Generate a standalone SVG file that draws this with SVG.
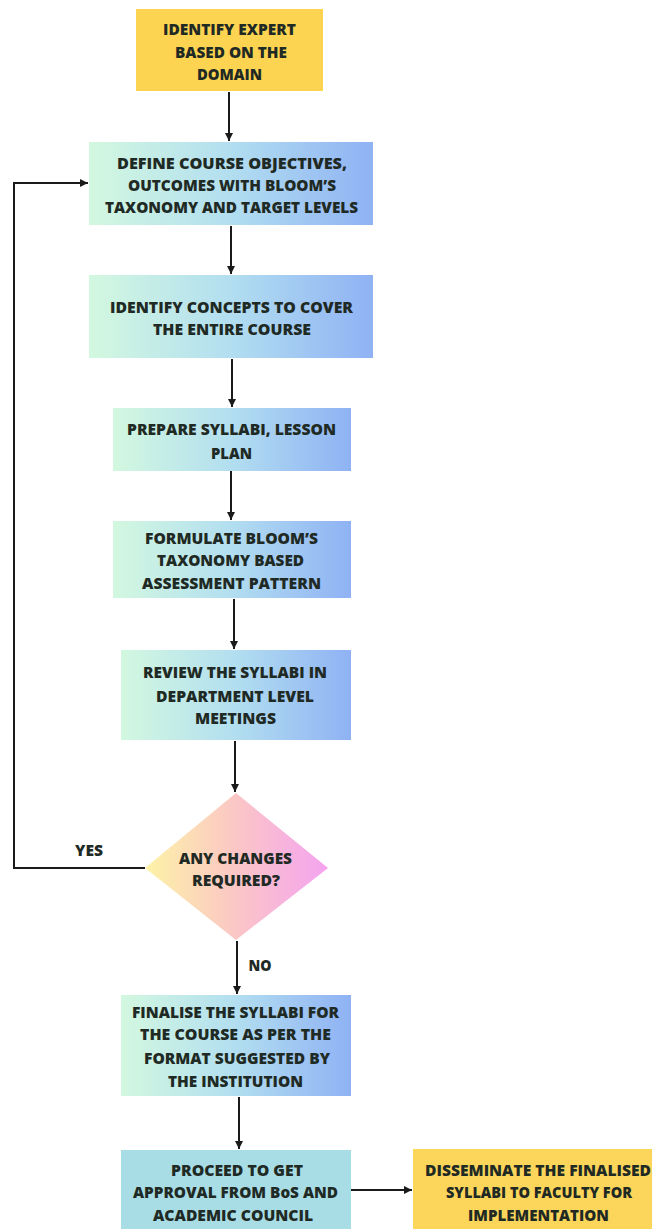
<svg xmlns="http://www.w3.org/2000/svg" width="652" height="1229" viewBox="0 0 652 1229">
<style>
.t{font-family:"Open Sans","Liberation Sans",sans-serif;font-weight:800;font-size:15.5px;fill:#1f2a24;text-anchor:middle}
.c{fill:none;stroke:#1a1a1a;stroke-width:2}
</style>
<defs>
<linearGradient id="g" x1="0" y1="0" x2="1" y2="0">
<stop offset="0" stop-color="#d3f8e0"/>
<stop offset="0.5" stop-color="#b2def0"/>
<stop offset="1" stop-color="#8fb2f4"/>
</linearGradient>
<linearGradient id="dg" x1="0" y1="0" x2="1" y2="0">
<stop offset="0" stop-color="#fdf3a6"/>
<stop offset="0.5" stop-color="#fbc6c6"/>
<stop offset="1" stop-color="#f4a3f0"/>
</linearGradient>
<marker id="a" markerUnits="userSpaceOnUse" markerWidth="10" markerHeight="10" refX="8" refY="4" orient="auto">
<path d="M0,0 L8,4 L0,8 Z" fill="#1a1a1a"/>
</marker>
</defs>
<rect width="652" height="1229" fill="#ffffff"/>

<g id="connectors">
<path class="c" d="M229,92 V141" marker-end="url(#a)"/>
<path class="c" d="M231,226 V274" marker-end="url(#a)"/>
<path class="c" d="M232,359 V407" marker-end="url(#a)"/>
<path class="c" d="M231,471 V520" marker-end="url(#a)"/>
<path class="c" d="M234,599 V649" marker-end="url(#a)"/>
<path class="c" d="M235,741 V792" marker-end="url(#a)"/>
<path class="c" d="M145,868 H14 V183 H88" marker-end="url(#a)"/>
<path class="c" d="M237,941 V994" marker-end="url(#a)"/>
<path class="c" d="M239,1097 V1149" marker-end="url(#a)"/>
<path class="c" d="M351,1190 H412" marker-end="url(#a)"/>
<text class="t" x="89" y="856" textLength="28" lengthAdjust="spacingAndGlyphs">YES</text>
<text class="t" x="260" y="971" textLength="23" lengthAdjust="spacingAndGlyphs">NO</text>
</g>

<g id="n1">
<rect x="136" y="9" width="187" height="82" fill="#fdd451"/>
<text class="t" x="229.5" y="35" textLength="133" lengthAdjust="spacingAndGlyphs">IDENTIFY EXPERT</text>
<text class="t" x="231" y="58" textLength="112" lengthAdjust="spacingAndGlyphs">BASED ON THE</text>
<text class="t" x="229.5" y="80" textLength="65" lengthAdjust="spacingAndGlyphs">DOMAIN</text>
</g>

<g id="n2">
<rect x="89" y="142" width="284" height="83" fill="url(#g)"/>
<text class="t" x="232" y="169" textLength="230" lengthAdjust="spacingAndGlyphs">DEFINE COURSE OBJECTIVES,</text>
<text class="t" x="232" y="191" textLength="208" lengthAdjust="spacingAndGlyphs">OUTCOMES WITH BLOOM’S</text>
<text class="t" x="231.5" y="213" textLength="253" lengthAdjust="spacingAndGlyphs">TAXONOMY AND TARGET LEVELS</text>
</g>

<g id="n3">
<rect x="89" y="275" width="284" height="83" fill="url(#g)"/>
<text class="t" x="231.5" y="313" textLength="243" lengthAdjust="spacingAndGlyphs">IDENTIFY CONCEPTS TO COVER</text>
<text class="t" x="232" y="335" textLength="158" lengthAdjust="spacingAndGlyphs">THE ENTIRE COURSE</text>
</g>

<g id="n4">
<rect x="113" y="408" width="238" height="63" fill="url(#g)"/>
<text class="t" x="231.5" y="435" textLength="209" lengthAdjust="spacingAndGlyphs">PREPARE SYLLABI, LESSON</text>
<text class="t" x="231.5" y="459" textLength="41" lengthAdjust="spacingAndGlyphs">PLAN</text>
</g>

<g id="n5">
<rect x="113" y="521" width="238" height="77" fill="url(#g)"/>
<text class="t" x="231.5" y="544" textLength="173" lengthAdjust="spacingAndGlyphs">FORMULATE BLOOM’S</text>
<text class="t" x="230.5" y="566" textLength="147" lengthAdjust="spacingAndGlyphs">TAXONOMY BASED</text>
<text class="t" x="231.5" y="589" textLength="179" lengthAdjust="spacingAndGlyphs">ASSESSMENT PATTERN</text>
</g>

<g id="n6">
<rect x="121" y="650" width="230" height="90" fill="url(#g)"/>
<text class="t" x="235" y="678" textLength="184" lengthAdjust="spacingAndGlyphs">REVIEW THE SYLLABI IN</text>
<text class="t" x="235" y="702" textLength="158" lengthAdjust="spacingAndGlyphs">DEPARTMENT LEVEL</text>
<text class="t" x="235.5" y="724" textLength="81" lengthAdjust="spacingAndGlyphs">MEETINGS</text>
</g>

<g id="n7">
<path d="M236,793 L328,868 L236,940 L145,868 Z" fill="url(#dg)"/>
<text class="t" x="235.5" y="864" textLength="113" lengthAdjust="spacingAndGlyphs">ANY CHANGES</text>
<text class="t" x="236" y="886" textLength="88" lengthAdjust="spacingAndGlyphs">REQUIRED?</text>
</g>

<g id="n8">
<rect x="121" y="995" width="230" height="101" fill="url(#g)"/>
<text class="t" x="235.5" y="1018" textLength="207" lengthAdjust="spacingAndGlyphs">FINALISE THE SYLLABI FOR</text>
<text class="t" x="235.5" y="1040" textLength="191" lengthAdjust="spacingAndGlyphs">THE COURSE AS PER THE</text>
<text class="t" x="237" y="1064" textLength="186" lengthAdjust="spacingAndGlyphs">FORMAT SUGGESTED BY</text>
<text class="t" x="235.5" y="1087" textLength="135" lengthAdjust="spacingAndGlyphs">THE INSTITUTION</text>
</g>

<g id="n9">
<rect x="121" y="1150" width="230" height="79" fill="#a9dde6"/>
<text class="t" x="237" y="1176" textLength="132" lengthAdjust="spacingAndGlyphs">PROCEED TO GET</text>
<text class="t" x="235.5" y="1198" textLength="205" lengthAdjust="spacingAndGlyphs">APPROVAL FROM BoS AND</text>
<text class="t" x="233" y="1221" textLength="160" lengthAdjust="spacingAndGlyphs">ACADEMIC COUNCIL</text>
</g>

<g id="n10">
<rect x="413" y="1149" width="239" height="80" fill="#fcd65a"/>
<text class="t" x="538" y="1176" textLength="226" lengthAdjust="spacingAndGlyphs">DISSEMINATE THE FINALISED</text>
<text class="t" x="539" y="1198" textLength="186" lengthAdjust="spacingAndGlyphs">SYLLABI TO FACULTY FOR</text>
<text class="t" x="538.5" y="1221" textLength="141" lengthAdjust="spacingAndGlyphs">IMPLEMENTATION</text>
</g>
</svg>
